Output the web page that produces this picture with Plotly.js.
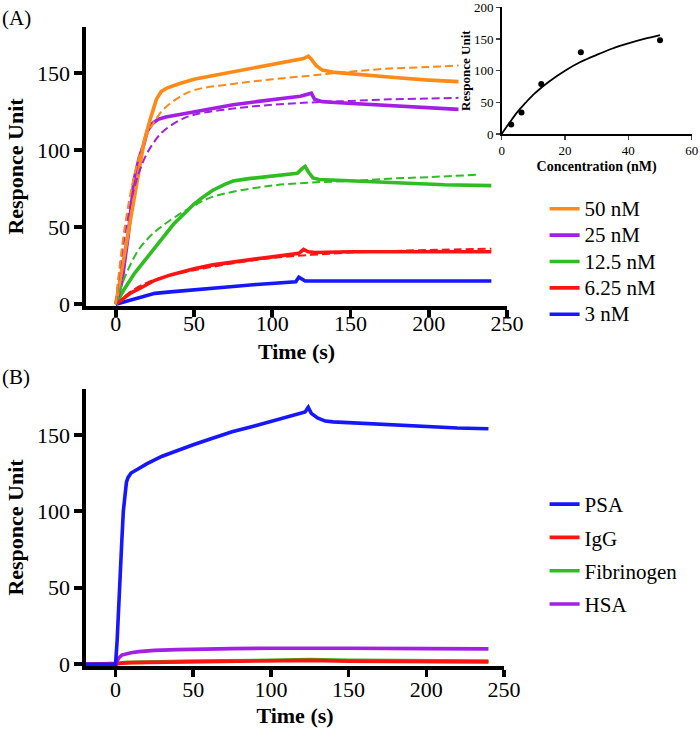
<!DOCTYPE html>
<html>
<head>
<meta charset="utf-8">
<script src="https://cdn.plot.ly/plotly-3.0.1.min.js"></script>
<style>html,body{margin:0;padding:0;background:#fff;}#chart{width:700px;height:731px;}</style>
</head>
<body>
<div id="chart"></div>
<script>
// ---------- Panel A: kinetics at several concentrations ----------
const concLabels = ["50 nM", "25 nM", "12.5 nM", "6.25 nM", "3 nM"];

const t50  = [0, 5, 10, 15, 18, 22, 26, 29, 33, 40, 50, 60, 75, 90, 100, 110, 115, 120, 123, 125, 128, 132, 140, 150, 165, 180, 200, 219];
const y50  = [0, 30, 60, 88, 105, 120, 133, 138, 140.5, 143, 146, 148, 151, 154, 156, 157.5, 158.5, 159.5, 161, 159, 155, 152, 150.5, 149.5, 148, 147, 145.5, 144.5];
const t25  = [0, 4, 8, 11.6, 15, 18, 20, 23, 27, 32, 40, 50, 60, 75, 90, 100, 110, 118, 122, 125, 127, 132, 140, 150, 170, 190, 219];
const y25  = [0, 15, 45, 80, 95, 104, 112, 117, 120, 121.5, 123, 125, 127, 129.5, 131.5, 132.5, 134, 135, 136, 137, 133, 131.5, 131, 130.5, 129, 128, 126.5];
const t12  = [0, 5, 12, 20, 25, 30, 37, 45, 50, 55, 62, 70, 75, 85, 100, 110, 116, 119, 121, 123, 126, 130, 140, 150, 170, 190, 210, 240];
const y12  = [0, 9, 20, 30, 37, 43, 52, 60, 65, 69, 74, 78, 80, 81.5, 83, 84, 85, 88, 89.5, 86, 82, 81, 80.5, 80, 79, 78, 77.5, 77];
const t6   = [0, 5, 10, 15, 20, 25, 35, 50, 62, 75, 90, 100, 110, 117, 120, 123, 127, 140, 150, 180, 210, 240];
const y6   = [0, 4, 7.5, 10, 13, 15.5, 19, 23, 25.5, 27.5, 29.5, 30.7, 32, 33, 35.5, 34, 33.5, 34, 34, 34, 34, 34];
const t3   = [0, 5, 10, 20, 25, 35, 50, 62, 75, 90, 100, 110, 115, 117, 119, 121, 130, 150, 200, 240];
const y3   = [0, 1.5, 3, 5.5, 7, 8, 9.5, 10.5, 11.5, 12.8, 13.5, 14, 14.5, 17.5, 16.5, 15, 15, 15, 15, 15];

// fitted curves (dashed)
const tf50 = [0, 2, 5, 10, 15, 20, 25, 30, 40, 50, 75, 100, 125, 150, 175, 200, 219];
const yf50 = [0, 20, 45, 75, 96, 110, 119, 126, 134, 139, 143, 146, 148.5, 151, 153, 154, 155];
const tf25 = [0, 2, 5, 10, 15, 20, 25, 30, 40, 50, 75, 100, 125, 150, 175, 200, 219];
const yf25 = [0, 18, 40, 68, 86, 98, 106, 112, 119, 123, 127, 129.5, 131, 132, 133, 133.5, 134];
const tf12 = [0, 3, 6, 10, 15, 20, 25, 30, 40, 50, 60, 75, 100, 125, 150, 175, 200, 231];
const yf12 = [0, 10, 18, 27, 36, 42, 47, 51, 58, 64, 69, 73, 77, 79, 80, 81.5, 82.5, 84];
const tf6  = [0, 5, 10, 20, 30, 50, 75, 100, 125, 150, 175, 200, 240];
const yf6  = [0, 4.5, 8.5, 14, 17.5, 22, 26.5, 30, 32, 33.5, 34.5, 35.2, 36];

// ---------- Inset: steady-state response vs concentration ----------
const insetConc = [3, 6.25, 12.5, 25, 50];
const insetResp = [15, 34, 79, 129, 148];
const insetFitX = [0, 2.5, 5, 7.5, 10, 12.5, 15, 20, 25, 30, 35, 40, 45, 50];
const insetFitY = [0, 18, 35, 49, 62, 73, 83, 100, 114, 125, 135, 143, 150, 156];

// ---------- Panel B: specificity ----------
const specLabels = ["PSA", "IgG", "Fibrinogen", "HSA"];
const tPSA = [-19, -10, 0, 1, 2, 3, 4, 5, 6, 7, 8, 10, 15, 20, 30, 40, 50, 60, 75, 90, 100, 110, 118, 122, 124, 126, 130, 135, 140, 150, 165, 180, 200, 220, 240];
const yPSA = [0, 0, 0, 15, 40, 60, 80, 100, 112, 119, 122, 125, 128, 131, 136, 140, 143.5, 147, 152, 156, 159, 162, 164, 165, 168, 164, 161, 159, 158.5, 158, 157, 156, 155, 154.5, 154];
const tIgG = [-19, 0, 2, 10, 50, 100, 125, 150, 200, 240];
const yIgG = [0, 0, 0.5, 1, 1.5, 2, 2.5, 2, 1.5, 1.5];
const tFib = [-19, 0, 5, 50, 100, 125, 150, 240];
const yFib = [0, 0, 1, 2, 2.5, 3, 2.5, 2];
const tHSA = [-19, 0, 1, 2, 4, 7, 10, 15, 25, 40, 50, 75, 100, 125, 150, 200, 240];
const yHSA = [0, 0, 2, 4, 6, 7, 7.5, 8.2, 9, 9.5, 9.8, 10.2, 10.4, 10.5, 10.4, 10.2, 10];

const xTicks = [0, 50, 100, 150, 200, 250];
const yTicks = [0, 50, 100, 150];

const C = {orange: "#FF8A17", purple: "#A21FE3", green: "#2EBE22", red: "#FF1414", blue: "#1616FF"};
const F = "Liberation Serif";

function solid(x, y, color, name, xa, ya, legend, rank) {
  return {x: x, y: y, type: "scatter", mode: "lines",
          name: '<span style="font-size:21px">' + name + '</span>',
          xaxis: xa, yaxis: ya, legend: legend, legendrank: rank, legendgroup: name,
          line: {color: color, width: 3.6}};
}
function dashed(x, y, color) {
  return {x: x, y: y, type: "scatter", mode: "lines", showlegend: false, xaxis: "x", yaxis: "y",
          line: {color: color, width: 2, dash: "8px,4px", shape: "spline"}, hoverinfo: "skip"};
}

const traces = [
  solid(t3, y3, C.blue, concLabels[4], "x", "y", "legend", 5),
  solid(t6, y6, C.red, concLabels[3], "x", "y", "legend", 4),
  solid(t12, y12, C.green, concLabels[2], "x", "y", "legend", 3),
  solid(t25, y25, C.purple, concLabels[1], "x", "y", "legend", 2),
  solid(t50, y50, C.orange, concLabels[0], "x", "y", "legend", 1),
  dashed(tf6, yf6, C.red),
  dashed(tf12, yf12, C.green),
  dashed(tf25, yf25, C.purple),
  dashed(tf50, yf50, C.orange),
  // inset
  {x: insetFitX, y: insetFitY, type: "scatter", mode: "lines", showlegend: false, xaxis: "x3", yaxis: "y3",
   line: {color: "#000", width: 1.8, shape: "spline"}},
  {x: insetConc, y: insetResp, type: "scatter", mode: "markers", showlegend: false, xaxis: "x3", yaxis: "y3",
   marker: {color: "#000", size: 6}, cliponaxis: false},
  // panel B
  solid(tFib, yFib, C.green, specLabels[2], "x2", "y2", "legend2", 3),
  solid(tIgG, yIgG, C.red, specLabels[1], "x2", "y2", "legend2", 2),
  solid(tHSA, yHSA, C.purple, specLabels[3], "x2", "y2", "legend2", 4),
  solid(tPSA, yPSA, C.blue, specLabels[0], "x2", "y2", "legend2", 1)
];

function mainX(domain, anchor, lblOff, standoff) {
  return {domain: domain, anchor: anchor, range: [-19, 250], tickvals: xTicks,
          ticks: "outside", ticklen: 7, tickwidth: 3.6, tickcolor: "#000", ticklabelstandoff: lblOff,
          showline: true, linewidth: 3.6, linecolor: "#000", showgrid: false, zeroline: false,
          tickfont: {family: F, size: 22, color: "#000"},
          title: {text: "<b>Time (s)</b>", font: {family: F, size: 22, color: "#000"}, standoff: standoff}};
}
function mainY(domain, anchor) {
  return {domain: domain, anchor: anchor, range: [-1.2, 180], tickvals: yTicks,
          ticks: "outside", ticklen: 8, tickwidth: 3.6, tickcolor: "#000",
          showline: true, linewidth: 3.6, linecolor: "#000", showgrid: false, zeroline: false,
          tickfont: {family: F, size: 22, color: "#000"},
          title: {text: "<b>Responce Unit</b>", font: {family: F, size: 22, color: "#000"}, standoff: 8}};
}

const layout = {
  width: 700, height: 731,
  margin: {l: 0, r: 0, t: 0, b: 0},
  paper_bgcolor: "#fff", plot_bgcolor: "rgba(0,0,0,0)",
  font: {family: F, color: "#000"},
  xaxis: mainX([0.1229, 0.7243], "y", -12, 9),
  yaxis: mainY([0.5814, 0.9631], "x"),
  xaxis2: mainX([0.1229, 0.72], "y2", -6, 7),
  yaxis2: mainY([0.0889, 0.4679], "x2"),
  xaxis3: {domain: [0.7167, 0.9881], anchor: "y3", range: [0, 60], tickvals: [0, 20, 40, 60],
           ticks: "outside", ticklen: 4, tickwidth: 1.5, showline: true, linewidth: 1.6, linecolor: "#000",
           showgrid: false, zeroline: false, tickfont: {family: F, size: 13, color: "#000"},
           ticklabeloverflow: "allow",
           title: {text: "<b>Concentration (nM)</b>", font: {family: F, size: 14, color: "#000"}, standoff: 4}},
  yaxis3: {domain: [0.8167, 0.99], anchor: "x3", range: [0, 200], tickvals: [0, 50, 100, 150, 200],
           ticks: "outside", ticklen: 4, tickwidth: 1.5, showline: true, linewidth: 1.6, linecolor: "#000",
           showgrid: false, zeroline: false, tickfont: {family: F, size: 13, color: "#000"},
           ticklabeloverflow: "allow",
           title: {text: "<b>Responce Unit</b>", font: {family: F, size: 13, color: "#000"}, standoff: 0}},
  legend: {x: 0.778, xanchor: "left", y: 0.6423, yanchor: "middle", bgcolor: "rgba(0,0,0,0)",
           font: {family: F, size: 18, color: "#000"}, traceorder: "normal", itemwidth: 30},
  legend2: {x: 0.778, xanchor: "left", y: 0.2415, yanchor: "middle", bgcolor: "rgba(0,0,0,0)",
            font: {family: F, size: 21, color: "#000"}, traceorder: "grouped", tracegroupgap: 3, itemwidth: 30},
  annotations: [
    {text: "(A)", x: 0, y: 0.9754, xref: "paper", yref: "paper", xanchor: "left", yanchor: "middle",
     showarrow: false, font: {family: F, size: 21, color: "#000"}},
    {text: "(B)", x: 0, y: 0.4843, xref: "paper", yref: "paper", xanchor: "left", yanchor: "middle",
     showarrow: false, font: {family: F, size: 21, color: "#000"}}
  ],
  showlegend: true
};

Plotly.newPlot("chart", traces, layout, {staticPlot: true, displayModeBar: false});
</script>
</body>
</html>
